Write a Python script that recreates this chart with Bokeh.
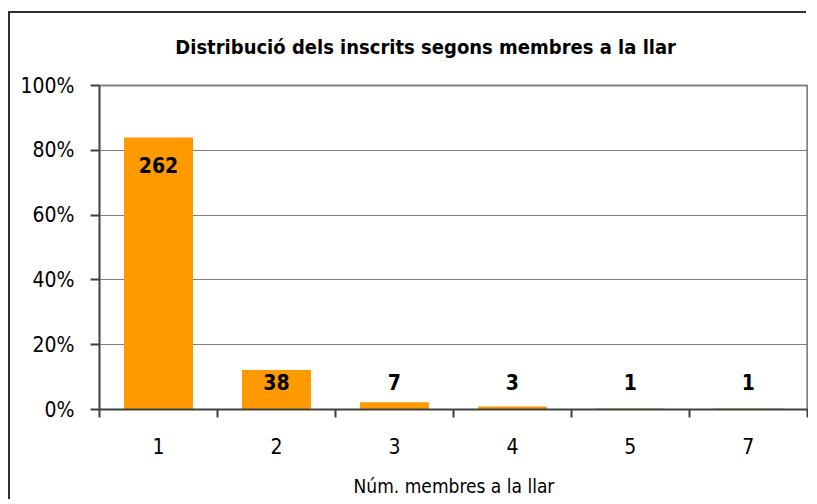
from bokeh.plotting import figure
from bokeh.models import ColumnDataSource, FixedTicker, Range1d
from bokeh.core.properties import value
from bokeh.embed import file_html
from bokeh.resources import INLINE

categories = ["1", "2", "3", "4", "5", "7"]
counts = [262, 38, 7, 3, 1, 1]
y_ticks = [0, 20, 40, 60, 80, 100]
y_tick_labels = ["0%", "20%", "40%", "60%", "80%", "100%"]
title_text = "Distribució dels inscrits segons membres a la llar"

total = sum(counts)
pcts = [c * 100.0 / total for c in counts]
xs = [i + 1 for i in range(len(categories))]
label_y = [max(p - 8.4, 8.6) for p in pcts]

FONT = "DejaVu Sans Condensed"
n = len(categories)
x_lo, x_hi = 0.5, n + 0.51
y_top = 116.7

src = ColumnDataSource(dict(x=xs, top=pcts, ly=label_y, txt=[str(c) for c in counts]))

p = figure(width=798, height=488, output_backend="svg", toolbar_location=None,
           x_range=Range1d(x_lo, x_hi), y_range=Range1d(0, y_top),
           min_border_left=89, min_border_right=0, min_border_top=18, min_border_bottom=92,
           styles={"margin-left": "10px", "margin-top": "13px",
                   "box-shadow": "-2px -2px 0px 0px #303030"})

p.vbar(x="x", top="top", width=0.585, bottom=0, source=src, fill_color="#FF9900", line_color=None)
p.text(x="x", y="ly", text="txt", source=src, text_align="center", text_baseline="middle",
       text_font=value(FONT), text_font_style="bold", text_font_size="21px", text_color="#000000")

# plot-area border (top and right), limited to 0..100 %
p.segment(x0=[x_lo, n + 0.5], y0=[100, 0], x1=[n + 0.5, n + 0.5], y1=[100, 100],
          line_color="#808080", line_width=2)

# chart title
p.text(x=[x_lo + (x_hi - x_lo) * 0.46], y=[y_top - 4.7], text=[title_text],
       text_align="center", text_baseline="middle", text_font=value(FONT),
       text_font_size="20px", text_font_style="bold", text_color="#000000")

# y axis
p.yaxis.ticker = FixedTicker(ticks=y_ticks)
p.yaxis.bounds = (0, 100)
p.yaxis.major_label_overrides = {t_: l for t_, l in zip(y_ticks, y_tick_labels)}
p.yaxis.major_label_text_font = FONT
p.yaxis.major_label_text_font_size = "21px"
p.yaxis.major_label_text_color = "#000000"
p.yaxis.major_tick_out = 9
p.yaxis.major_tick_in = 0
p.yaxis.minor_tick_out = 0
p.yaxis.minor_tick_in = 0
p.yaxis.major_label_standoff = 16
p.yaxis.axis_line_color = "#404040"
p.yaxis.axis_line_width = 2
p.yaxis.major_tick_line_color = "#404040"
p.yaxis.major_tick_line_width = 2

# x axis
p.xaxis.ticker = FixedTicker(ticks=xs, minor_ticks=[x - 0.5 for x in xs] + [xs[-1] + 0.5])
p.xaxis.major_label_overrides = {x: c for x, c in zip(xs, categories)}
p.xaxis.major_label_text_font = FONT
p.xaxis.major_label_text_font_size = "21px"
p.xaxis.major_label_text_color = "#000000"
p.xaxis.major_tick_out = 0
p.xaxis.major_tick_in = 0
p.xaxis.minor_tick_out = 8
p.xaxis.minor_tick_in = 0
p.xaxis.minor_tick_line_color = "#404040"
p.xaxis.minor_tick_line_width = 2
p.xaxis.major_label_standoff = 20
p.xaxis.axis_line_color = "#404040"
p.xaxis.axis_line_width = 2
p.xaxis.axis_label = "Núm. membres a la llar"
p.xaxis.axis_label_text_font = FONT
p.xaxis.axis_label_text_font_size = "19px"
p.xaxis.axis_label_text_font_style = "normal"
p.xaxis.axis_label_text_color = "#000000"
p.xaxis.axis_label_standoff = 18

p.xgrid.grid_line_color = None
p.ygrid.ticker = FixedTicker(ticks=y_ticks)
p.ygrid.grid_line_color = "#808080"
p.ygrid.grid_line_width = 1

p.outline_line_color = None
p.background_fill_color = "#FFFFFF"
p.border_fill_color = "#FFFFFF"

open("out.html", "w").write(file_html(p, INLINE))
